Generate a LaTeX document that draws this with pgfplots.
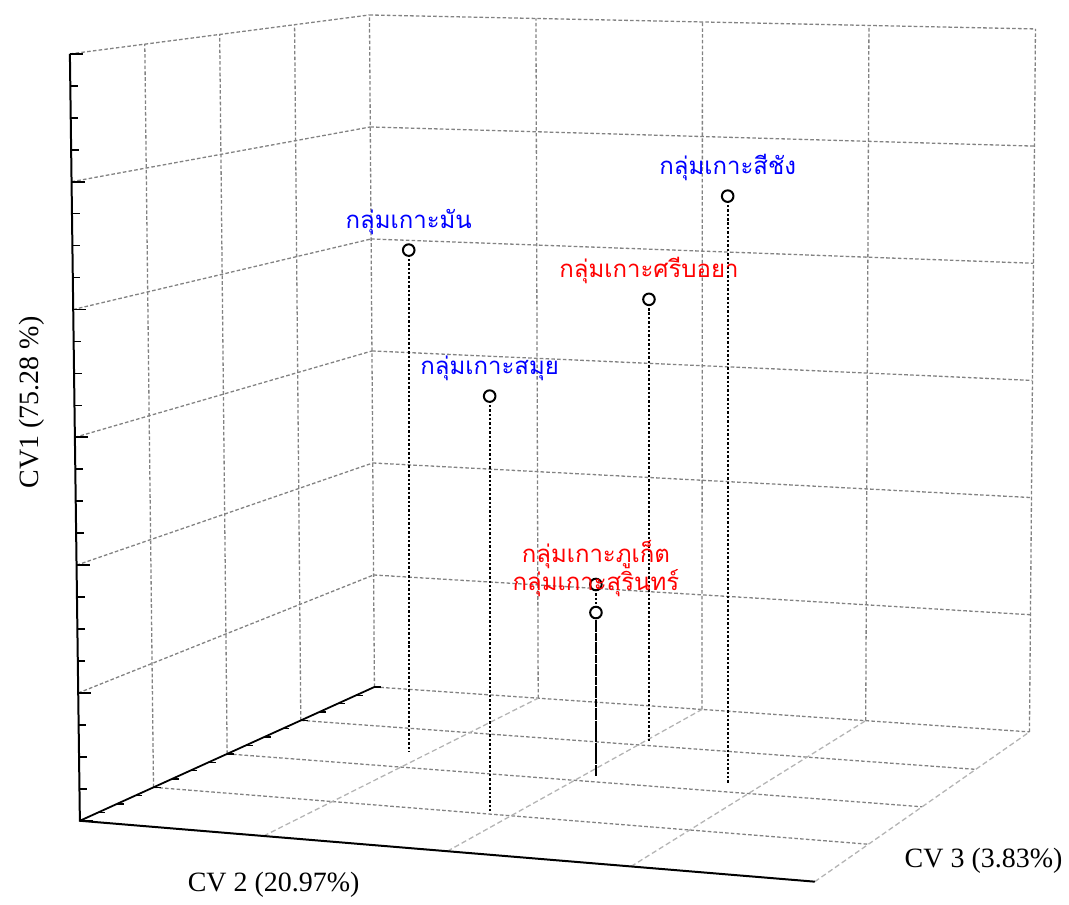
\documentclass[border=0pt]{standalone}
\usepackage{pgfplots}
\pgfplotsset{compat=1.18}
\usepackage{pgfplotstable}
\usepackage{fontspec}
\setmainfont{Liberation Serif}
\newfontfamily\thaifont[Script=Thai]{Loma}

\definecolor{gridc}{RGB}{130,130,130}
\definecolor{gridl}{RGB}{180,180,180}

% data in grid units: u = CV 2 (front edge), v = CV 3 (depth), z = CV1 (vertical)
\pgfplotstableread{
u v z name
0.90 2.41 4.20 กลุ่มเกาะมัน
1.87 1.06 3.30 กลุ่มเกาะสมุย
2.81 2.20 4.79 กลุ่มเกาะสีชัง
}\bluepts
\pgfplotstableread{
u v z name
2.02 3.12 3.74 กลุ่มเกาะศรีบอยา
2.07 2.15 1.57 กลุ่มเกาะภูเก็ต
2.07 2.15 1.34 กลุ่มเกาะสุรินทร์
}\redpts

\newcommand\Q[3]{(axis cs:{px(#1,#2,#3)},{py(#1,#2,#3)})}

\begin{document}
\begin{tikzpicture}[
  declare function={
    px(\u,\v,\z)=(1-\z/6)*(80+184*\u+73.75*\v-5*\u*\v)+(\z/6)*(70+186.75*\u+75*\v-5*\u*\v);
    py(\u,\v,\z)=899-((1-\z/6)*(822+15.25*\u-33.5*\v-\u*\v)+(\z/6)*(54+7.75*\u-9.75*\v-1.0625*\u*\v));
  },
  gd/.style={gridc, line width=0.65pt, dash pattern=on 1.8pt off 1.1pt},
  gl/.style={gridl, line width=0.65pt, dash pattern=on 2.6pt off 1.5pt},
]
\begin{axis}[
  x=0.5pt, y=0.5pt,
  xmin=0, xmax=1069, ymin=0, ymax=899,
  hide axis, clip=false, enlargelimits=false,
]
% bounding box
\path (axis cs:0,0) rectangle (axis cs:1069,899);
% left wall
\pgfplotsinvokeforeach{1,2,3,4}{\draw[gd] \Q{0}{#1}{0} -- \Q{0}{#1}{6};}
\pgfplotsinvokeforeach{1,2,3,4,5,6}{\draw[gd] \Q{0}{0}{#1} -- \Q{0}{4}{#1};}
% back wall
\pgfplotsinvokeforeach{1,2,3,4}{\draw[gd] \Q{#1}{4}{0} -- \Q{#1}{4}{6};}
\pgfplotsinvokeforeach{0,1,2,3,4,5,6}{\draw[gd] \Q{0}{4}{#1} -- \Q{4}{4}{#1};}
% floor
\pgfplotsinvokeforeach{1,2,3}{\draw[gd] \Q{0}{#1}{0} -- \Q{4}{#1}{0};}
\pgfplotsinvokeforeach{1,2,3,4}{\draw[gl] \Q{#1}{0}{0} -- \Q{#1}{4}{0};}
% axes
\draw[black, line width=1pt] \Q{0}{0}{6} -- \Q{0}{0}{0} -- \Q{4}{0}{0};
\draw[black, line width=0.9pt] \Q{0}{0}{0} -- \Q{0}{4}{0};
% ticks on CV1
\pgfplotsinvokeforeach{0,0.25,...,6}{\draw[black, line width=0.8pt] \Q{0}{0}{#1} -- ++(3.8pt,0);}
\pgfplotsinvokeforeach{0,1,2,3,4,5,6}{\draw[black, line width=0.9pt] \Q{0}{0}{#1} -- ++(6.5pt,0);}
% ticks on depth axis
\pgfplotsinvokeforeach{0.25,0.5,...,4}{\draw[black, line width=0.7pt] \Q{0}{#1}{0} -- ++(3.5pt,0);}

% data: markers, drop lines, labels
\addplot[only marks, mark=*, mark size=2.9pt,
  mark options={fill=white, draw=black, line width=1pt, solid},
  error bars/y dir=minus, error bars/y explicit,
  error bars/error mark=none,
  error bars/error bar style={black, line width=0.9pt, dash pattern=on 1.2pt off 1pt},
  point meta=explicit symbolic,
  nodes near coords,
  every node near coord/.append style={font=\thaifont\fontsize{12}{14}\selectfont, text=blue, anchor=base, yshift=11pt, inner sep=0pt},
] table[
  x expr={px(\thisrow{u},\thisrow{v},\thisrow{z})},
  y expr={py(\thisrow{u},\thisrow{v},\thisrow{z})},
  y error expr={py(\thisrow{u},\thisrow{v},\thisrow{z})-py(\thisrow{u},\thisrow{v},0)},
  meta=name] {\bluepts};
\addplot[only marks, mark=*, mark size=2.9pt,
  mark options={fill=white, draw=black, line width=1pt, solid},
  error bars/y dir=minus, error bars/y explicit,
  error bars/error mark=none,
  error bars/error bar style={black, line width=0.9pt, dash pattern=on 1.2pt off 1pt},
  point meta=explicit symbolic,
  nodes near coords,
  every node near coord/.append style={font=\thaifont\fontsize{12}{14}\selectfont, text=red, anchor=base, yshift=11pt, inner sep=0pt},
] table[
  x expr={px(\thisrow{u},\thisrow{v},\thisrow{z})},
  y expr={py(\thisrow{u},\thisrow{v},\thisrow{z})},
  y error expr={py(\thisrow{u},\thisrow{v},\thisrow{z})-py(\thisrow{u},\thisrow{v},0)},
  meta=name] {\redpts};

% axis titles
\node[rotate=90, font=\fontsize{14}{16}\selectfont] at (axis cs:32,496) {CV1 (75.28 \%)};
\node[font=\fontsize{14}{16}\selectfont] at (axis cs:274,13) {CV 2 (20.97\%)};
\node[font=\fontsize{14}{16}\selectfont] at (axis cs:985,37) {CV 3 (3.83\%)};
\end{axis}
\end{tikzpicture}
\end{document}
